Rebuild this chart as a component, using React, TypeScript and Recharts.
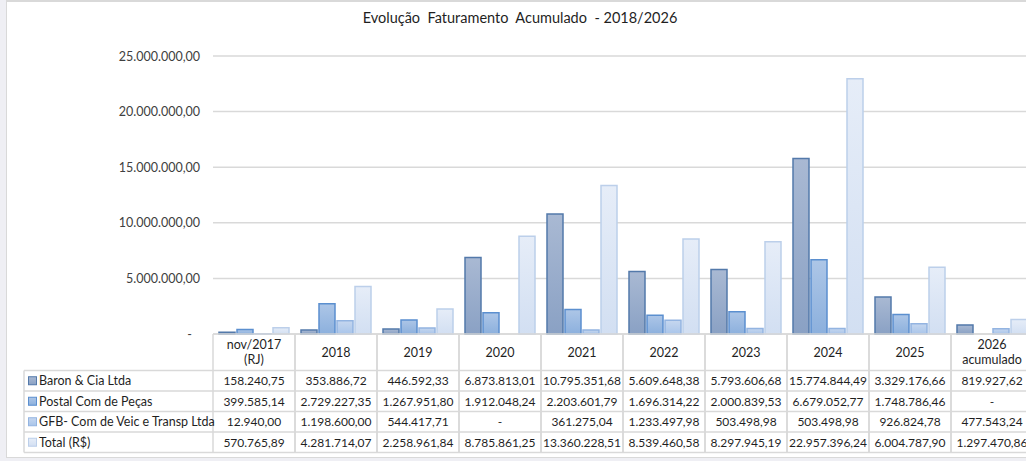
import { BarChart, Bar, XAxis, YAxis, CartesianGrid } from 'recharts';

const categories = [
  'nov/2017\n(RJ)',
  '2018',
  '2019',
  '2020',
  '2021',
  '2022',
  '2023',
  '2024',
  '2025',
  '2026\nacumulado',
];
const seriesNames = [
  'Baron & Cia Ltda',
  'Postal Com de Peças',
  'GFB- Com de Veic e Transp Ltda',
  'Total (R$)',
];
const baron = [158240.75, 353886.72, 446592.33, 6873813.01, 10795351.68, 5609648.38, 5793606.68, 15774844.49, 3329176.66, 819927.62];
const postal = [399585.14, 2729227.35, 1267951.8, 1912048.24, 2203601.79, 1696314.22, 2000839.53, 6679052.77, 1748786.46, null];
const gfb = [12940.0, 1198600.0, 544417.71, null, 361275.04, 1233497.98, 503498.98, 503498.98, 926824.78, 477543.24];
const total = [570765.89, 4281714.07, 2258961.84, 8785861.25, 13360228.51, 8539460.58, 8297945.19, 22957396.24, 6004787.9, 1297470.86];
const yTicks = [0, 5000000, 10000000, 15000000, 20000000, 25000000];

const title = 'Evolução  Faturamento  Acumulado  - 2018/2026';

// fill top, fill bottom, stroke
const colors = [
  { top: '#a9b9d3', bottom: '#8aa1c4', stroke: '#5379aa' },
  { top: '#adc6e7', bottom: '#8cb0dd', stroke: '#5b8fcf' },
  { top: '#c6d7ef', bottom: '#a9c5ea', stroke: '#93b4e1' },
  { top: '#e6edf8', bottom: '#d2dff2', stroke: '#bccfea' },
];
const keys = ['baron', 'postal', 'gfb', 'total'];
const series = [baron, postal, gfb, total];

const data = categories.map((c, i) => ({
  name: c,
  baron: baron[i],
  postal: postal[i],
  gfb: gfb[i],
  total: total[i],
}));

const FONT = 'Lato, "Liberation Sans", Arial, sans-serif';
const CHART_W = 1040;
const CHART_H = 461;
const Y_W = 213;
const RIGHT = 7;
const BAND = (CHART_W - Y_W - RIGHT) / categories.length;
const TABLE_TOP = 334;
const ROWS = [370.5, 391, 411.5, 432, 452.5];
const GRID = '#d9d9d9';

function fmt(v: number | null) {
  if (v === null || v === 0) return '-';
  const [int, dec] = v.toFixed(2).split('.');
  return int.replace(/\B(?=(\d{3})+(?!\d))/g, '.') + ',' + dec;
}

const YTick = ({ x, y, payload }: any) => {
  const v = payload.value;
  return (
    <text
      x={v === 0 ? x - 8 : x}
      y={y}
      textAnchor="end"
      dominantBaseline="central"
      fontSize={12.5}
      fontFamily={FONT}
      fill="#404040"
    >
      {v === 0 ? '-' : fmt(v)}
    </text>
  );
};

// each category tick draws its column of the data table
const TableTick = ({ x, payload }: any) => {
  const i = categories.indexOf(payload.value);
  const left = x - BAND / 2;
  const right = x + BAND / 2;
  const lines = String(payload.value).split('\n');
  const headMid = (TABLE_TOP + ROWS[0]) / 2;
  return (
    <g fontFamily={FONT} fontSize={12} fill="#1f1f1f">
      <line x1={left} x2={right} y1={TABLE_TOP} y2={TABLE_TOP} stroke={GRID} strokeWidth={1.5} />
      {ROWS.map((r) => (
        <line key={r} x1={left} x2={right} y1={r} y2={r} stroke={GRID} strokeWidth={1.5} />
      ))}
      <line x1={left} x2={left} y1={TABLE_TOP} y2={ROWS[4]} stroke={GRID} strokeWidth={1.5} />
      <line x1={right} x2={right} y1={TABLE_TOP} y2={ROWS[4]} stroke={GRID} strokeWidth={1.5} />
      {lines.map((l, k) => (
        <text
          key={k}
          x={x}
          y={headMid + (k - (lines.length - 1) / 2) * 15}
          textAnchor="middle"
          dominantBaseline="central"
          fontSize={12.5}
        >
          {l}
        </text>
      ))}
      {series.map((s, k) => (
        <text
          key={k}
          x={x}
          y={(ROWS[k] + ROWS[k + 1]) / 2}
          textAnchor="middle"
          dominantBaseline="central"
        >
          {fmt(s[i])}
        </text>
      ))}
      {i === 0 && (
        <g>
          {ROWS.map((r) => (
            <line key={r} x1={24} x2={left} y1={r} y2={r} stroke={GRID} strokeWidth={1.5} />
          ))}
          <line x1={24} x2={24} y1={ROWS[0]} y2={ROWS[4]} stroke={GRID} strokeWidth={1.5} />
          {seriesNames.map((n, k) => {
            const cy = (ROWS[k] + ROWS[k + 1]) / 2;
            return (
              <g key={n}>
                <rect
                  x={28.5}
                  y={cy - 4}
                  width={8}
                  height={8}
                  fill={`url(#grad${k})`}
                  stroke={colors[k].stroke}
                  strokeWidth={1}
                />
                <text x={39} y={cy} dominantBaseline="central" fontSize={12.5}>
                  {n}
                </text>
              </g>
            );
          })}
        </g>
      )}
    </g>
  );
};

export default function App() {
  return (
    <div
      style={{
        position: 'absolute',
        left: 0,
        top: 0,
        width: 1026,
        height: 461,
        overflow: 'hidden',
        background: '#efeff4',
      }}
    >
      <div
        style={{
          position: 'absolute',
          left: 6,
          top: 0,
          width: 1100,
          height: 455,
          background: '#ffffff',
          borderTop: `2px solid ${GRID}`,
          borderLeft: `1px solid ${GRID}`,
          borderBottom: `1px solid ${GRID}`,
        }}
      />
      <div
        style={{
          position: 'absolute',
          left: 320,
          width: 400,
          top: 9,
          textAlign: 'center',
          whiteSpace: 'pre',
          fontFamily: FONT,
          fontSize: 14.5,
          color: '#1f1f1f',
        }}
      >
        {title}
      </div>
      <div style={{ position: 'absolute', left: 0, top: 0 }}>
        <BarChart
          width={CHART_W}
          height={CHART_H}
          data={data}
          margin={{ top: 56, right: RIGHT, bottom: 5, left: 0 }}
          barCategoryGap={6}
          barGap={2}
        >
          <defs>
            {colors.map((c, k) => (
              <linearGradient key={k} id={`grad${k}`} x1="0" y1="0" x2="0" y2="1">
                <stop offset="0%" stopColor={c.top} />
                <stop offset="100%" stopColor={c.bottom} />
              </linearGradient>
            ))}
          </defs>
          <CartesianGrid vertical={false} stroke={GRID} strokeWidth={1.5} />
          <XAxis
            dataKey="name"
            interval={0}
            height={CHART_H - 5 - TABLE_TOP}
            axisLine={false}
            tickLine={false}
            tick={<TableTick />}
          />
          <YAxis
            width={Y_W}
            domain={[0, 25000000]}
            ticks={yTicks}
            axisLine={false}
            tickLine={false}
            tickMargin={7}
            tick={<YTick />}
          />
          {keys.map((k, idx) => (
            <Bar
              key={k}
              dataKey={k}
              fill={`url(#grad${idx})`}
              stroke={colors[idx].stroke}
              strokeWidth={1.5}
              isAnimationActive={false}
            />
          ))}
        </BarChart>
      </div>
    </div>
  );
}
